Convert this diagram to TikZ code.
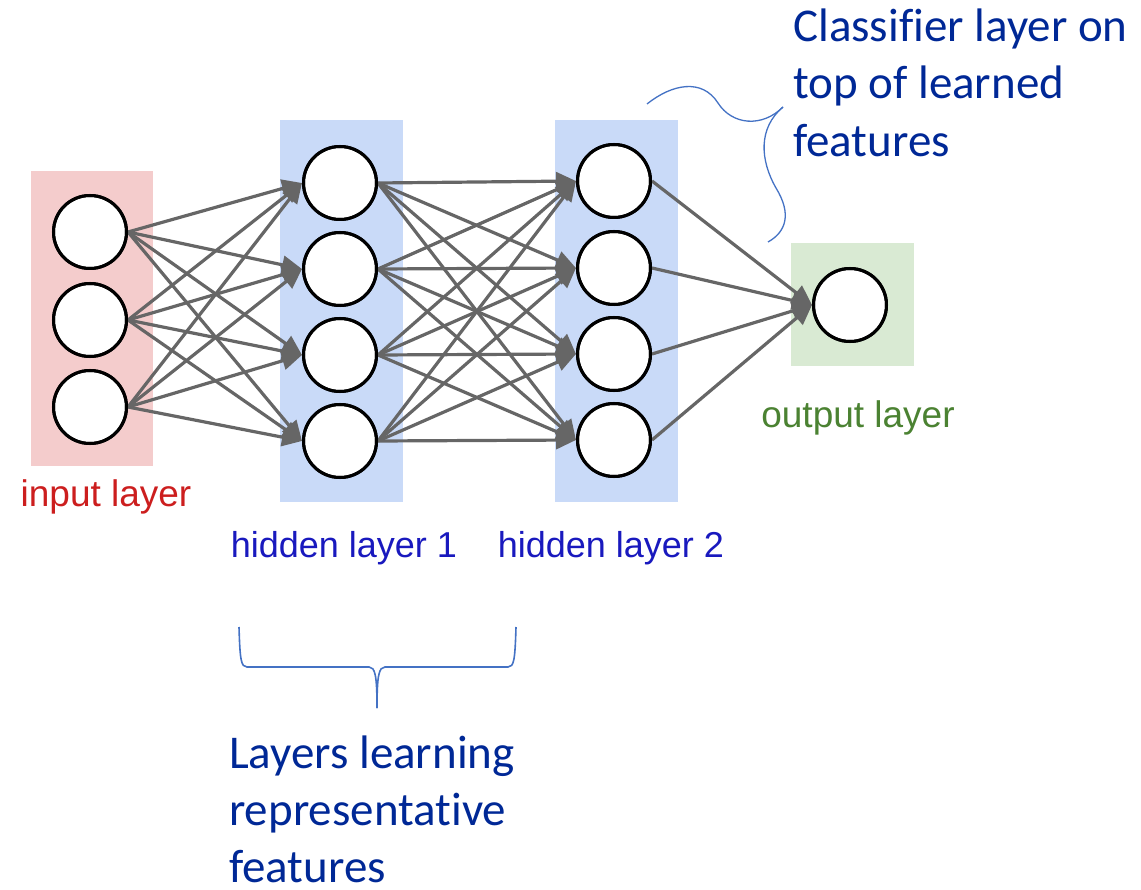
\documentclass[tikz,border=0pt]{standalone}
\usepackage{fontspec}
\setmainfont{Liberation Sans}
\newfontfamily\notefont[Ligatures=NoCommon]{Carlito}
\usetikzlibrary{arrows.meta}

\definecolor{inbg}{HTML}{F4CCCC}
\definecolor{hidbg}{HTML}{C9DAF8}
\definecolor{outbg}{HTML}{D9EAD3}
\definecolor{edgegray}{HTML}{666666}
\definecolor{inred}{RGB}{204,30,30}
\definecolor{hidblue}{RGB}{25,25,190}
\definecolor{outgreen}{RGB}{75,130,50}
\definecolor{notetext}{RGB}{0,40,150}
\definecolor{braceblue}{RGB}{68,114,196}

\tikzset{
  neuron/.style={circle, draw=black, line width=3pt, fill=white,
                 minimum size=73pt, inner sep=0pt},
  conn/.style={draw=edgegray, line width=3.2pt,
               -{Triangle[length=20pt,width=18pt]}},
  layerlabel/.style={anchor=base, inner sep=0pt,
                     font=\fontsize{37}{44}\selectfont},
  noteline/.style={anchor=base west, inner sep=0pt, text=notetext,
                   font=\notefont\fontsize{47}{57}\selectfont},
  bracepath/.style={draw=braceblue, line width=1.6pt},
}

\begin{document}
\begin{tikzpicture}[x=1pt,y=-1pt]
\useasboundingbox (0,0) rectangle (1141,890);

% layer backgrounds
\fill[inbg]  (31,171) rectangle (153,466);
\fill[hidbg] (280,120) rectangle (403,502);
\fill[hidbg] (555,120) rectangle (678,502);
\fill[outbg] (791,243) rectangle (914,366);

% neurons
\foreach \i/\y in {1/232,2/320,3/407}
  \node[neuron] (i\i) at (90,\y) {};
\foreach \i/\y in {1/183,2/269,3/355,4/441}
  \node[neuron] (h\i) at (340,\y) {};
\foreach \i/\y in {1/181,2/268,3/354,4/440}
  \node[neuron] (g\i) at (614,\y) {};
\node[neuron] (o) at (850,305) {};

% connections
\foreach \a in {1,2,3}
  \foreach \b in {1,2,3,4}
    \draw[conn] (i\a.east) -- (h\b.west);
\foreach \a in {1,2,3,4}
  \foreach \b in {1,2,3,4}
    \draw[conn] (h\a.east) -- (g\b.west);
\foreach \a in {1,2,3,4}
  \draw[conn] (g\a.east) -- (o.west);

% redraw neuron outlines over the arrow tips
\foreach \n in {i1,i2,i3,h1,h2,h3,h4,g1,g2,g3,g4,o}
  \draw[line width=3pt] (\n) circle (36.5pt);

% layer labels
\node[layerlabel, text=inred]    (inlabel)  at (106,507) {input layer};
\node[layerlabel, text=hidblue, font=\fontsize{36}{43}\selectfont]
  (h1label) at (344,557) {hidden layer 1};
\node[layerlabel, text=hidblue, font=\fontsize{36}{43}\selectfont]
  (h2label) at (611,557) {hidden layer 2};
\node[layerlabel, text=outgreen] (outlabel) at (858,428) {output layer};

% note on the classifier layer
\node[noteline] (cl1) at (793,42)  {Classifier layer on};
\node[noteline] (cl2) at (793,99)  {top of learned};
\node[noteline] (cl3) at (793,157) {features};

% note on the hidden layers
\node[noteline] (ll1) at (229,768) {Layers learning};
\node[noteline] (ll2) at (229,825) {representative};
\node[noteline] (ll3) at (229,882) {features};

% brace under the hidden layers
\draw[bracepath] (239,627) .. controls (240,660) and (241,667) .. (247,667)
  -- (369,667) .. controls (375,667) and (377,675) .. (377,708);
\draw[bracepath] (516,627) .. controls (515,660) and (514,667) .. (508,667)
  -- (385,667) .. controls (379,667) and (377,675) .. (377,708);

% wavy brace toward the output layer
\draw[bracepath, line width=1.3pt] (647,104)
  .. controls (672,84) and (702,78) .. (718,103)
  .. controls (732,125) and (762,128) .. (783,107);
\draw[bracepath, line width=1.3pt] (783,107)
  .. controls (758,128) and (760,160) .. (776,188)
  .. controls (792,214) and (786,232) .. (768,242);
\end{tikzpicture}
\end{document}
